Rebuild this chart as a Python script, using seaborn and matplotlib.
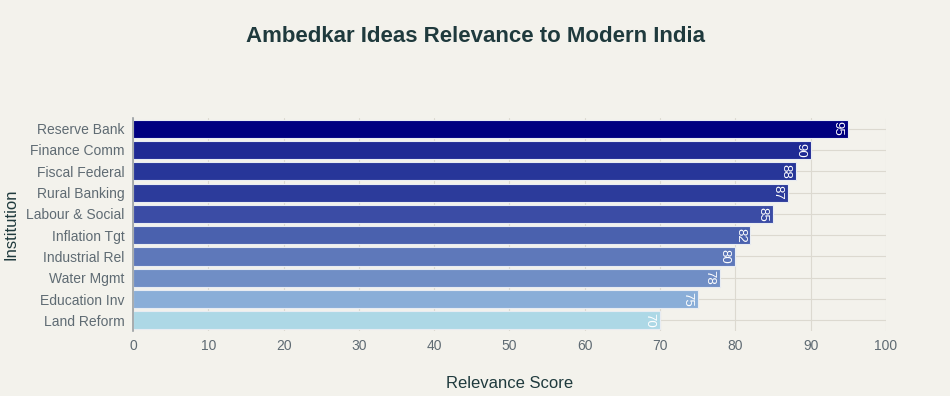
import seaborn as sns
import matplotlib.pyplot as plt
import pandas as pd

institutions = ["Reserve Bank", "Finance Comm", "Fiscal Federal", "Rural Banking",
                "Labour & Social", "Inflation Tgt", "Industrial Rel", "Water Mgmt",
                "Education Inv", "Land Reform"]
scores = [95, 90, 88, 87, 85, 82, 80, 78, 75, 70]
bar_colors = ["#000080", "#1f2a94", "#273699", "#2c3b9b", "#3b4ca5",
              "#4a61ae", "#5e78ba", "#708ec5", "#8aaed8", "#add8e6"]

df = pd.DataFrame({"Institution": institutions, "Score": scores})

bg = "#f3f2ec"
sns.set_theme(style="whitegrid")
plt.rcParams['font.family'] = ['Liberation Sans', 'DejaVu Sans']

fig = plt.figure(figsize=(9.5, 3.96), dpi=100, facecolor=bg)
ax = fig.add_axes([0.14, 0.164, 0.7926, 0.538])
ax.set_facecolor(bg)

sns.barplot(data=df, x="Score", y="Institution", hue="Institution",
            palette=bar_colors, legend=False, width=0.85, ax=ax,
            edgecolor="#e8ecf2", linewidth=0.8, saturation=1)

for i, v in enumerate(scores):
    ax.text(v - 0.6, i, str(v), rotation=-90, ha="right", va="center",
            color="white", fontsize=9.5)

ax.set_xlim(0, 100)
ax.set_xticks(range(0, 101, 10))
ax.grid(True, axis="both", color="#dcd9d0", linewidth=0.8)
ax.set_axisbelow(True)
for s in ["top", "right", "bottom"]:
    ax.spines[s].set_visible(False)
ax.spines["left"].set_color("#9aa0a3")
ax.spines["left"].set_linewidth(1.2)

ax.tick_params(axis="both", colors="#5f6b73", labelsize=10, length=0, pad=6)
ax.set_xlabel("Relevance Score", fontsize=12, color="#1f3a3d", labelpad=16)
ax.set_ylabel("Institution", fontsize=12, color="#1f3a3d")
ax.yaxis.set_label_coords(-0.152, 0.5)
fig.suptitle("Ambedkar Ideas Relevance to Modern India", fontsize=16,
             fontweight="bold", color="#1f3a3d", y=0.935)

fig.savefig("out.png", dpi=100, facecolor=bg)
